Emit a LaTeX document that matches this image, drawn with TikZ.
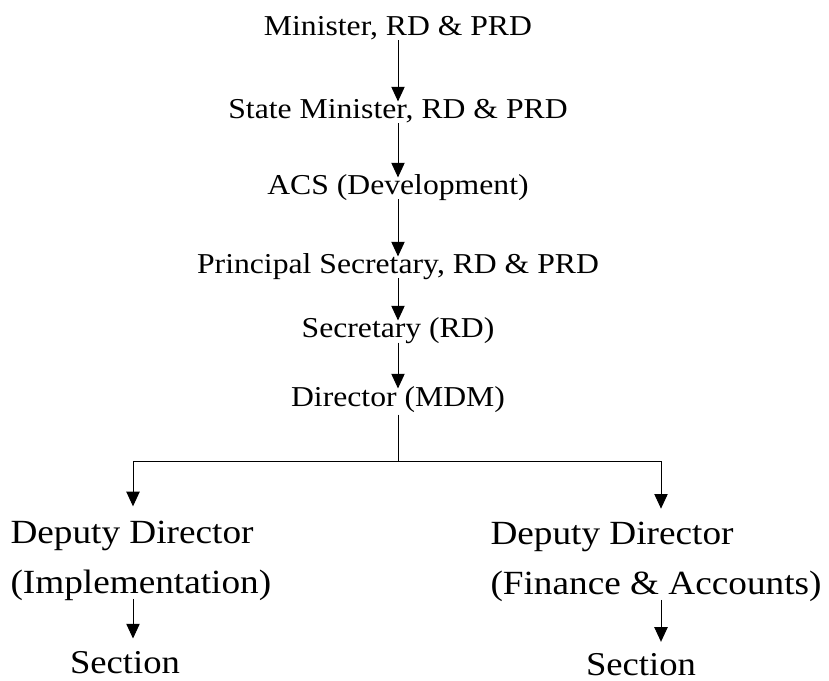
\documentclass[tikz,border=0pt]{standalone}
\usepackage{fontspec}
\setmainfont{Liberation Serif}[FakeStretch=1.1]
\usetikzlibrary{arrows.meta}
\begin{document}
\begin{tikzpicture}[x=0.75pt,y=-0.75pt,
  line width=0.75pt,
  arr/.style={-{Triangle[width=10pt,length=11pt]}},
  lvl/.style={font=\fontsize{21.6}{25}\selectfont, inner sep=0pt, anchor=base,
    text height=14.3pt, text depth=0pt},
  dep/.style={font=\fontsize{25.4}{37.5}\selectfont, inner sep=0pt, anchor=north west,
    align=left},
  sec/.style={font=\fontsize{25}{29}\selectfont, inner sep=0pt, anchor=base,
    text height=16.5pt, text depth=0pt},
  down/.style={arr, shorten <=3pt, shorten >=-1.5pt}
]
\useasboundingbox (0,0) rectangle (829,681);

\node[lvl] (n1) at (398,36)  {Minister, RD \& PRD};
\node[lvl] (n2) at (398,119) {State Minister, RD \& PRD};
\node[lvl] (n3) at (398,195) {ACS (Development)};
\node[lvl] (n4) at (398,274) {Principal Secretary, RD \& PRD};
\node[lvl] (n5) at (398,338) {Secretary (RD)};
\node[lvl] (n6) at (398,406) {Director (MDM)};

\draw[down] (n1.south) -- (n2.north);
\draw[down] (n2.south) -- (n3.north);
\draw[down] (n3.south) -- (n4.north);
\draw[down] (n4.south) -- (n5.north);
\draw[down] (n5.south) -- (n6.north);

\node[dep] (d1) at (10,521)  {Deputy Director\\(Implementation)};
\node[dep] (d2) at (490,522) {Deputy Director\\(Finance \& Accounts)};

\node[sec] (s1) at (125,673) {Section};
\node[sec] (s2) at (641,675) {Section};

\coordinate (j)  at (398,461);
\coordinate (jl) at (133,461);
\coordinate (jr) at (661,461);

\draw[shorten <=6pt] (n6.south) -- (j);
\draw (jl) -- (jr);
\draw[arr, shorten >=11pt] (jl) -- (d1.north -| jl);
\draw[arr, shorten >=10pt] (jr) -- (d2.north -| jr);

\draw[arr, shorten <=-2pt, shorten >=9pt] (d1.south -| jl) -- (s1.north -| jl);
\draw[arr, shorten <=-2pt, shorten >=8pt] (d2.south -| jr) -- (s2.north -| jr);
\end{tikzpicture}
\end{document}
